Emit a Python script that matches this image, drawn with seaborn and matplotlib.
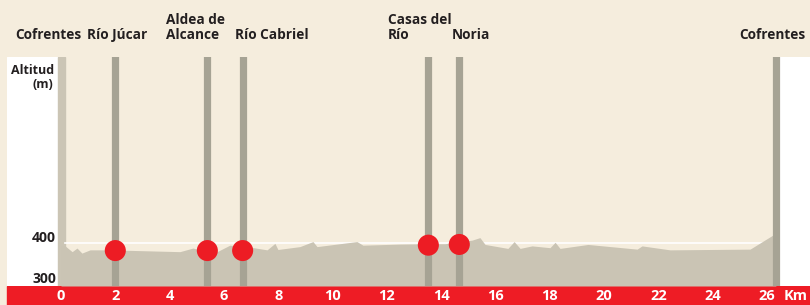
import numpy as np
import pandas as pd
import matplotlib
matplotlib.use('Agg')
import matplotlib.pyplot as plt
from matplotlib.patches import Rectangle
import seaborn as sns

# Elevation profile (km, m)
km = [0, 0.15, 0.41, 0.59, 0.77, 1.07, 1.80, 4.38, 4.86, 5.12, 5.75, 6.22, 6.85,
      7.59, 7.88, 7.99, 8.80, 9.28, 9.43, 10.90, 11.12, 12.49, 13.52, 14.14,
      15.14, 15.43, 15.62, 16.46, 16.69, 16.91, 17.35, 18.01, 18.20, 18.38,
      19.41, 21.22, 21.40, 22.43, 25.38, 26.22, 26.33]
elev = [392, 392, 376, 386, 372, 381, 381, 376, 386, 381, 376, 394, 390,
        381, 399, 382, 390, 404, 390, 404, 394, 397, 398, 398,
        408, 415, 396, 385, 404, 385, 392, 387, 402, 385,
        396, 383, 392, 381, 383, 422, 426]

# Waypoints
wp_km = [2.0, 5.39, 6.69, 13.53, 14.67]
wp_elev = [379, 379, 379, 394, 396]
end_km = 26.33

# Place labels
place_names = ['Cofrentes', 'Río Júcar', 'Aldea de\nAlcance', 'Río Cabriel',
               'Casas del\nRío', 'Noria', 'Cofrentes']
place_km = [-1.69, 0.96, 3.87, 6.41, 12.04, 14.4, 27.44]
place_ha = ['left', 'left', 'left', 'left', 'left', 'left', 'right']

xticks = list(range(0, 27, 2))

W, H = 810, 305
fig = plt.figure(figsize=(W / 100, H / 100), dpi=100)
fig.patch.set_facecolor('#f5eddd')
plt.rcParams['font.family'] = ['Open Sans', 'DejaVu Sans']
DARK = '#231f20'

ax = fig.add_axes([7 / W, 19 / H, (W - 7) / W, (286 - 57) / H])
ax.set_facecolor('none')
x0 = (7 - 61) / 27.15
x1 = (810 - 61) / 27.15
ax.set_xlim(x0, x1)
ax.set_ylim(280.6, 916.7)
for s in ax.spines.values():
    s.set_visible(False)

# white side panels and left edge bar
ax.axvspan(x0, -0.11, color='white', zorder=0)
ax.axvspan(26.45, x1, color='white', zorder=0)
ax.axvspan(-0.11, 0.15, color='#cbc5b5', zorder=0)

# 400 m reference line, under the profile
ax.plot([0.15, 26.2], [400, 400], color='white', lw=1.2, zorder=1)

df = pd.DataFrame({'km': km, 'elev': elev})
ax.fill_between(df['km'], 280.6, df['elev'], color='#cac4b4', lw=0, zorder=2)

# vertical waypoint bars
for k in wp_km + [end_km]:
    ax.axvline(k, color='#a6a394', lw=5.2, zorder=3)

pts = pd.DataFrame({'km': wp_km, 'elev': wp_elev})
sns.scatterplot(data=pts, x='km', y='elev', color='#ed1c24', s=230,
                edgecolor='none', zorder=4, ax=ax)

# red distance band
fig.add_artist(Rectangle((7 / W, 0), (W - 7) / W, 19 / H, transform=fig.transFigure,
                         color='#ee1c25', zorder=0))

ax.set_xticks(xticks)
ax.set_xticklabels([str(t) for t in xticks], fontweight='bold', color='white', fontsize=10.5)
ax.tick_params(axis='x', length=0, pad=2.5)
ax.set_yticks([])
ax.set_xlabel('')
ax.set_ylabel('')
xt = ax.get_xaxis_transform()
ax.text(27.51, -10 / 229, 'Km', transform=xt, ha='right', va='center',
        color='white', fontweight='bold', fontsize=10.5)

# altitude labels
ax.text(-0.18, 413, '400', ha='right', va='center', fontsize=10, fontweight='bold', color=DARK)
ax.text(-0.18, 300, '300', ha='right', va='center', fontsize=10, fontweight='bold', color=DARK)
ax.text(-0.24, 1 - 14 / 229, 'Altitud', transform=xt, ha='right',
        va='center', fontsize=9, fontweight='bold', color=DARK)
ax.text(-0.27, 1 - 27 / 229, '(m)', transform=xt, ha='right',
        va='center', fontsize=9, fontweight='bold', color=DARK)

# place names above the chart
for name, k, ha in zip(place_names, place_km, place_ha):
    ax.text(k, 1 + 18 / 229, name, transform=xt, ha=ha, va='baseline', fontsize=9.8,
            fontweight='bold', color=DARK, linespacing=1.1)

fig.savefig('out.png', dpi=100, facecolor=fig.get_facecolor())
